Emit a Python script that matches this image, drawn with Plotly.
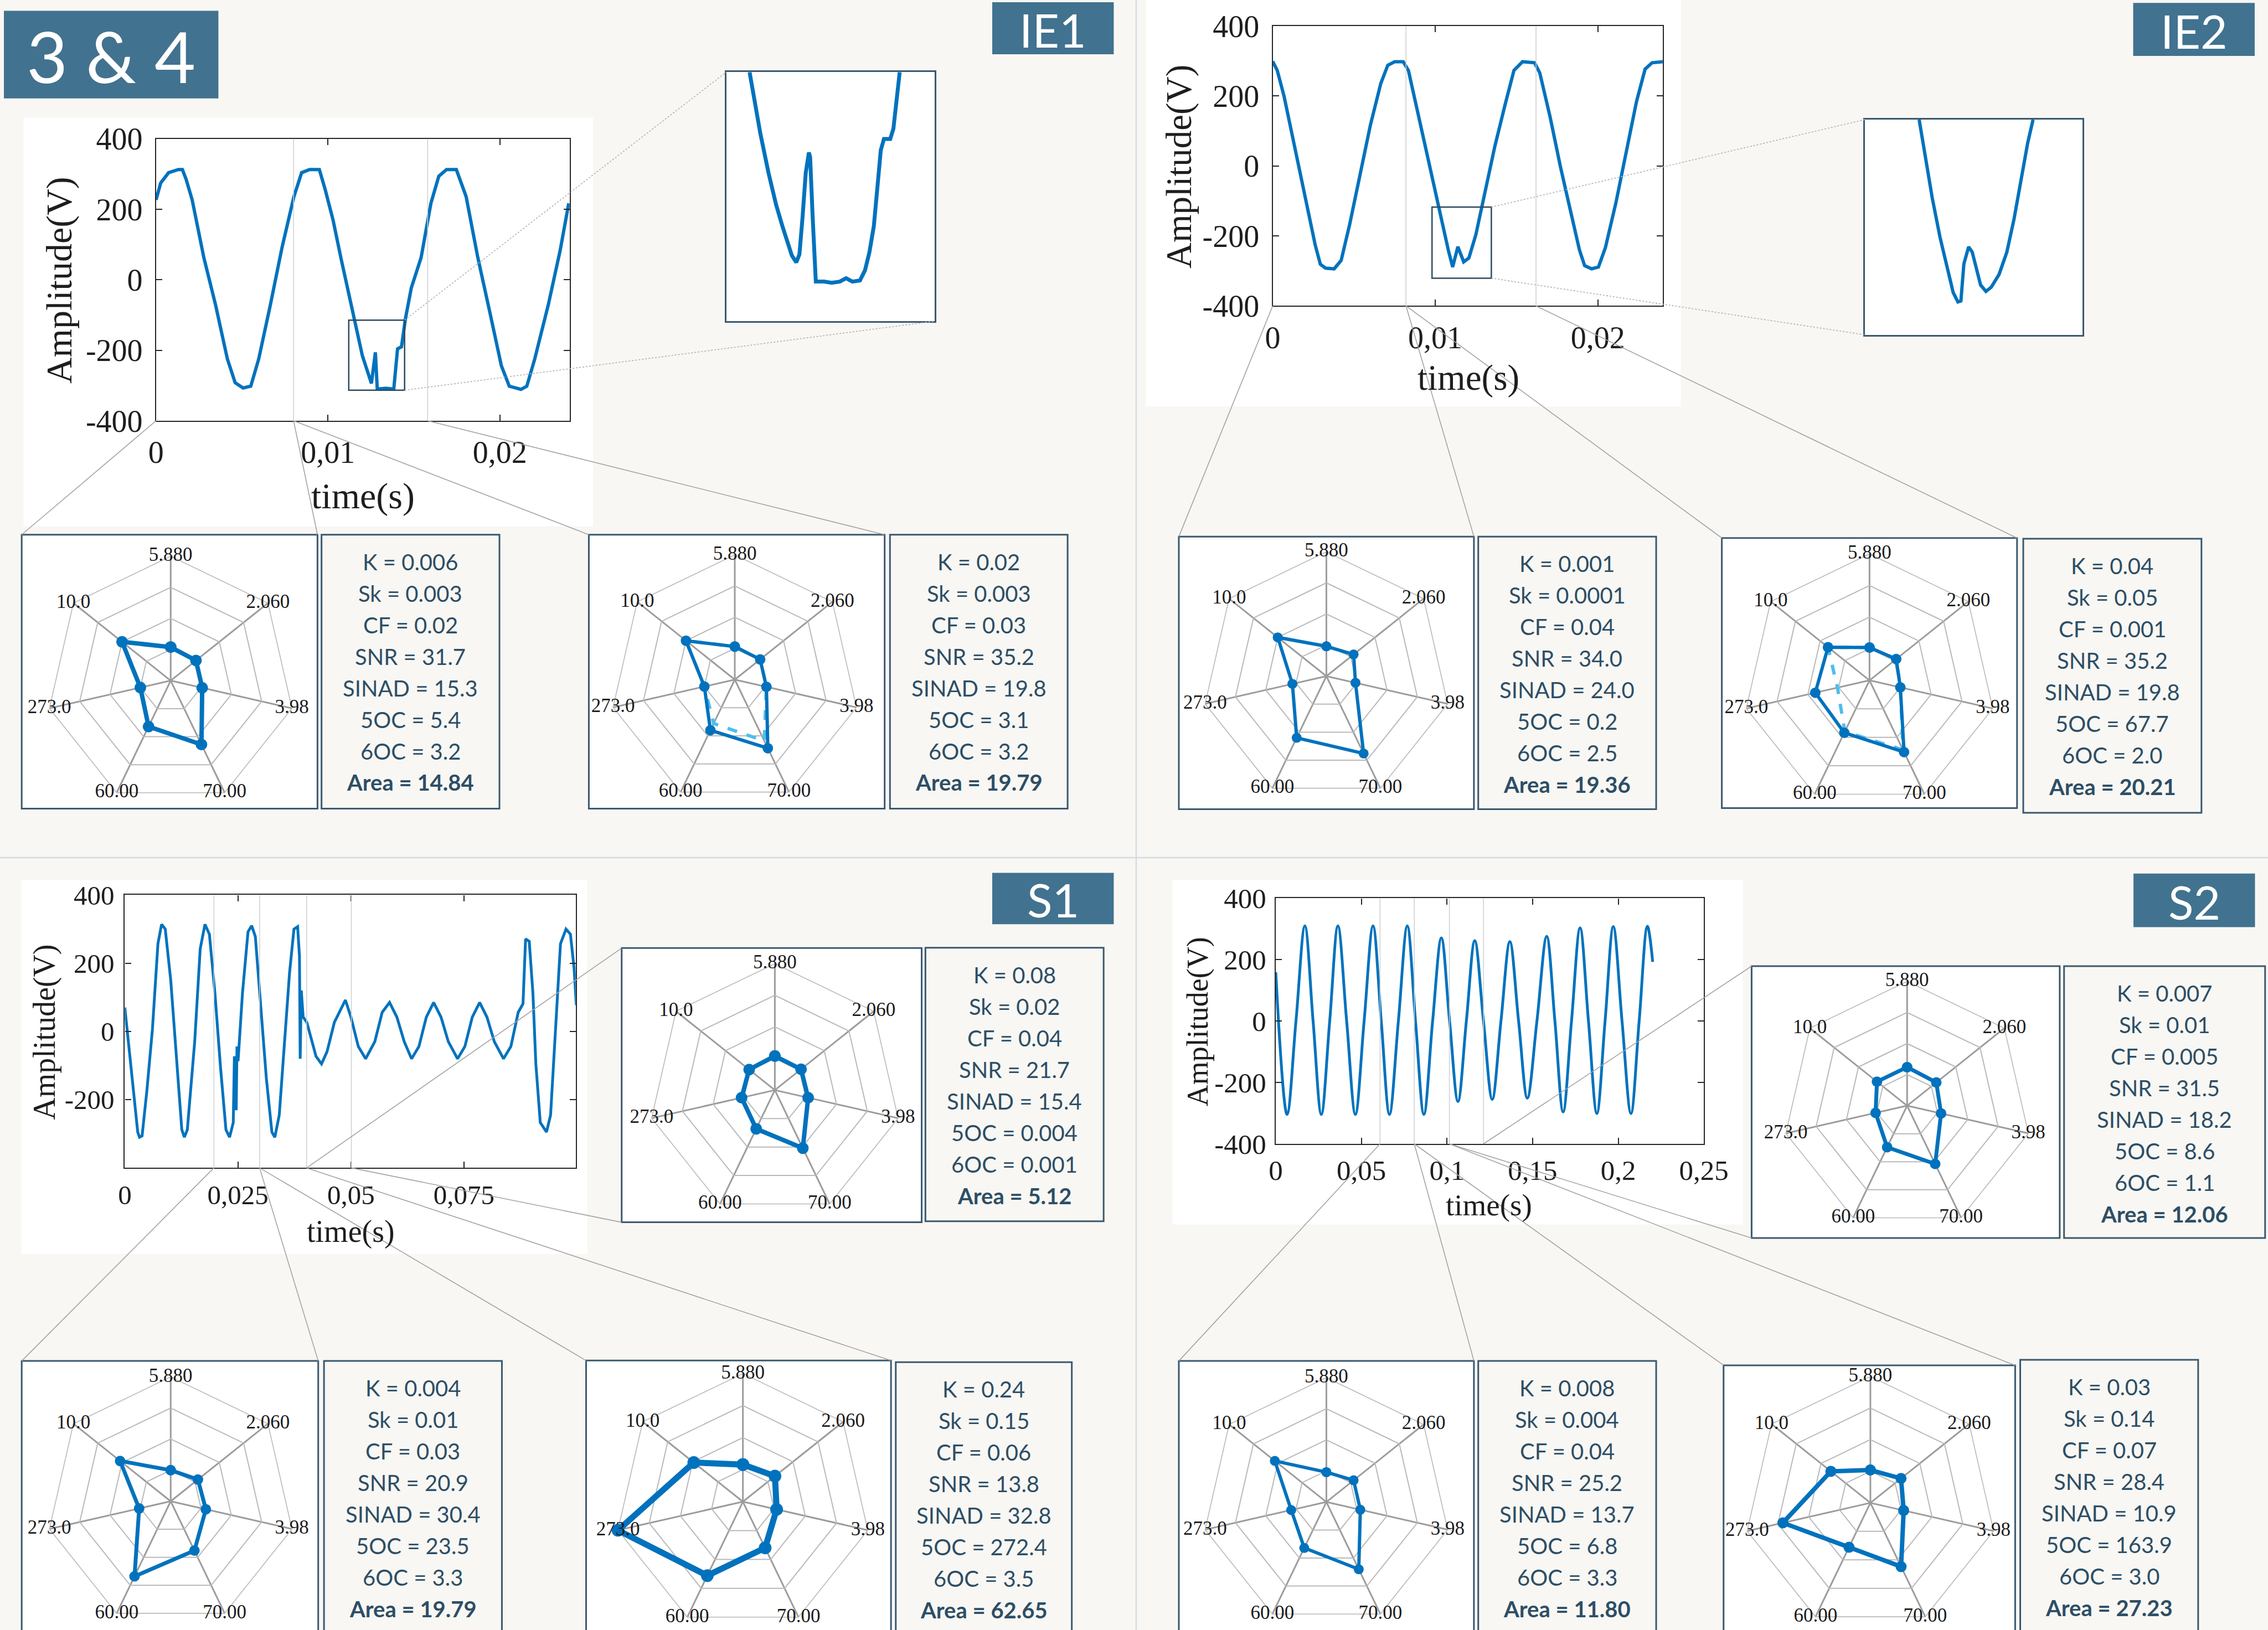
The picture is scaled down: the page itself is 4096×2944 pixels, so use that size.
import plotly.graph_objects as go

W, H = 4096, 2944
RW, RH = 1568.0, 1127.0          # layout frame (reference shrunk to 1568 wide)
S = W / RW


def px(x):
    return x / RW


def py(y):
    return 1.0 - y / RH


def clamp01(v):
    return min(1.0, max(0.0, v))


BG = '#f8f7f3'
BLUE = '#0072bd'
LIGHTBLUE = '#4dbeee'
SLATE = '#41728f'
BORDER = '#3b5970'
TXT = '#2d4e66'
AXC = '#262626'
DIVIDER = '#d3dce3'
SERIF = 'Liberation Serif'
SANS = 'Lato'

# ------------------------------------------------------------------ data
# waveforms: time in ms, amplitude in V
IE1_T_MS = [0.00, 0.27, 0.73, 1.30, 1.53, 1.75, 2.10, 2.78, 3.46, 4.15, 4.60, 5.06, 5.51, 5.97, 6.65, 7.33,
            8.02, 8.47, 8.93, 9.50, 9.84, 10.30, 10.75, 11.44, 12.00, 12.53, 12.76, 12.87, 13.37, 13.83,
            14.05, 14.28, 14.51, 14.85, 15.42, 15.99, 16.45, 16.90, 17.47, 18.04, 18.72, 19.41, 20.09,
            20.55, 21.23, 21.57, 22.03, 22.82, 23.51, 24.01]
IE1_V = [227, 275, 304, 313, 313, 285, 227, 63, -71, -225, -292, -307, -302, -225, -71, 92, 236, 304, 313,
         313, 256, 169, 63, -90, -215, -294, -206, -310, -308, -310, -196, -190, -110, -23, 63, 217, 294,
         313, 313, 236, 63, -90, -244, -302, -311, -302, -225, -71, 83, 217]

IE1Z_T_MS = [11.57, 11.64, 11.74, 11.87, 11.99, 12.09, 12.17, 12.24, 12.31, 12.36, 12.41, 12.46, 12.51,
             12.53, 12.57, 12.62, 12.75, 12.87, 13.00, 13.10, 13.20, 13.32, 13.40, 13.47, 13.54, 13.60,
             13.65, 13.70, 13.80, 13.85, 13.90, 13.95]
IE1Z_V = [-110, -134, -164, -199, -227, -246, -261, -272, -278, -271, -238, -199, -181, -185, -238, -295,
          -295, -296, -295, -292, -295, -294, -285, -269, -246, -207, -179, -169, -169, -160, -137, -110]

IE2_T_MS = [0.00, 0.28, 0.70, 1.34, 1.98, 2.61, 2.93, 3.25, 3.78, 4.21, 4.74, 5.38, 6.01, 6.65, 7.08, 7.50,
            8.03, 8.35, 8.99, 9.63, 10.27, 10.80, 11.07, 11.39, 11.75, 12.07, 12.50, 13.03, 13.67, 14.30,
            14.84, 15.37, 16.11, 16.43, 17.07, 17.70, 18.34, 18.87, 19.19, 19.62, 20.04, 20.47, 21.11,
            21.74, 22.38, 22.91, 23.34, 24.02]
IE2_V = [299, 273, 199, 57, -92, -225, -281, -292, -294, -270, -166, -25, 117, 236, 288, 298, 298, 273, 139,
         5, -136, -240, -289, -231, -274, -263, -196, -84, 57, 176, 273, 298, 295, 266, 139, -2, -136, -240,
         -285, -294, -289, -233, -106, 42, 184, 277, 295, 298]

IE2Z_T_MS = [10.71, 10.81, 10.93, 11.06, 11.19, 11.28, 11.36, 11.41, 11.46, 11.54, 11.60, 11.67, 11.74,
             11.83, 11.92, 12.05, 12.18, 12.30, 12.43, 12.53, 12.62]
IE2Z_V = [-118, -150, -192, -229, -260, -281, -290, -289, -254, -238, -243, -260, -274, -280, -276, -264,
          -243, -212, -171, -140, -118]

S1_T_MS = [0, 0.41, 1.63, 2.85, 3.25, 3.82, 4.88, 6.10, 7.32, 8.13, 8.94, 10.16, 11.38, 12.60, 13.17, 13.82,
           15.45, 16.67, 17.72, 18.70, 19.92, 21.14, 22.36, 23.17, 23.98, 24.23, 24.63, 24.80, 25.04, 26.02,
           27.24, 28.05, 28.86, 30.08, 31.30, 32.52, 33.17, 34.15, 35.37, 36.42, 37.40, 38.21, 38.62, 38.78,
           39.02, 39.43, 40.24, 41.46, 42.28, 43.50, 44.72, 46.34, 47.97, 48.78, 50.00, 51.63, 53.25, 55.28,
           56.91, 58.54, 60.16, 61.79, 63.41, 65.04, 66.67, 68.29, 69.92, 71.54, 73.58, 75.20, 76.83, 78.46,
           80.08, 81.71, 83.74, 85.37, 86.99, 88.05, 88.62, 89.43, 90.24, 90.89, 91.87, 93.25, 94.15, 95.12,
           96.34, 97.56, 98.54, 99.35, 99.84]
S1_V = [70, 13, -138, -295, -310, -306, -173, 6, 257, 314, 300, 149, -66, -288, -310, -288, -30, 242, 314, 285,
        113, -102, -288, -310, -267, -73, -231, -44, -87, 113, 292, 310, 278, 77, -138, -295, -310, -245, -30,
        171, 300, 307, 221, -80, 120, 42, 27, -30, -73, -95, -59, 27, 70, 92, 42, -44, -80, -30, 56, 85, 42,
        -30, -80, -44, 42, 85, 42, -30, -80, -44, 42, 85, 42, -30, -80, -44, 56, 81, 271, 264, 113, -95, -267,
        -295, -245, -30, 257, 300, 285, 185, 77]

S2_T_MS = [0, 6.6, 11.8, 17.0, 21.8, 26.6, 31.5, 36.3, 41.4, 46.5, 51.6, 56.8, 61.6, 66.4, 71.6, 76.8, 81.6,
           86.5, 91.6, 96.7, 101.5, 106.4, 111.3, 116.2, 121.3, 126.4, 131.5, 136.7, 141.8, 146.9, 152.5,
           158.2, 163.0, 167.8, 172.7, 177.7, 182.6, 187.5, 192.3, 197.1, 202.2, 207.4, 212.2, 217.0, 220.1]
S2_V = [159, -304, 0, 310, 0, -304, 0, 310, 0, -304, 0, 310, 0, -304, 0, 310, 0, -304, 0, 271, 0, -262, 0,
        262, 0, -255, 0, 259, 0, -251, 0, 276, 0, -296, 0, 304, 0, -301, 0, 308, 0, -301, 0, 309, 193]

# analysis windows (ms) marked on each waveform
IE1_WIN_MS = [0.0, 8.0, 15.8]
IE2_WIN_MS = [0.0, 8.2, 16.2]
S1_WIN_MS = [19.7, 29.8, 40.2, 50.1]
S2_WIN_MS = [60.9, 80.9, 101.4, 121.3]
IE1_ZOOM_T_MS = [11.21, 14.46]
IE1_ZOOM_V = [-313.5, -114.4]
IE2_ZOOM_T_MS = [9.80, 13.45]
IE2_ZOOM_V = [-320.7, -117.6]

# radar charts
AXIS_LABELS = ['5.880', '2.060', '3.98', '70.00', '60.00', '273.0', '10.0']
R_IE1A = [0.27, 0.26, 0.26, 0.57, 0.41, 0.25, 0.50]
R_IE1B = [0.265, 0.26, 0.26, 0.61, 0.45, 0.25, 0.50]
R_IE1B_REF = [0.265, 0.26, 0.26, 0.545, 0.39, 0.25, 0.50]
R_IE2A = [0.24, 0.28, 0.24, 0.69, 0.55, 0.28, 0.50]
R_IE2B = [0.26, 0.27, 0.25, 0.63, 0.46, 0.44, 0.42]
R_IE2B_REF = [0.26, 0.27, 0.25, 0.61, 0.45, 0.26, 0.42]
R_S1 = [0.27, 0.265, 0.27, 0.51, 0.34, 0.27, 0.26]
R_S2 = [0.31, 0.30, 0.28, 0.52, 0.37, 0.26, 0.31]
R_S1A = [0.25, 0.28, 0.29, 0.44, 0.67, 0.26, 0.52]
R_S1B = [0.29, 0.32, 0.27, 0.40, 0.64, 1.00, 0.49]
R_S2A = [0.24, 0.28, 0.28, 0.60, 0.41, 0.29, 0.53]
R_S2B = [0.26, 0.31, 0.27, 0.56, 0.39, 0.71, 0.40]

METRIC_NAMES = ['K', 'Sk', 'CF', 'SNR', 'SINAD', '5OC', '6OC', 'Area']
M_IE1A = ['0.006', '0.003', '0.02', '31.7', '15.3', '5.4', '3.2', '14.84']
M_IE1B = ['0.02', '0.003', '0.03', '35.2', '19.8', '3.1', '3.2', '19.79']
M_IE2A = ['0.001', '0.0001', '0.04', '34.0', '24.0', '0.2', '2.5', '19.36']
M_IE2B = ['0.04', '0.05', '0.001', '35.2', '19.8', '67.7', '2.0', '20.21']
M_S1 = ['0.08', '0.02', '0.04', '21.7', '15.4', '0.004', '0.001', '5.12']
M_S2 = ['0.007', '0.01', '0.005', '31.5', '18.2', '8.6', '1.1', '12.06']
M_S1A = ['0.004', '0.01', '0.03', '20.9', '30.4', '23.5', '3.3', '19.79']
M_S1B = ['0.24', '0.15', '0.06', '13.8', '32.8', '272.4', '3.5', '62.65']
M_S2A = ['0.008', '0.004', '0.04', '25.2', '13.7', '6.8', '3.3', '11.80']
M_S2B = ['0.03', '0.14', '0.07', '28.4', '10.9', '163.9', '3.0', '27.23']

PANEL_TAGS = ['3 & 4', 'IE1', 'IE2', 'S1', 'S2']

# ------------------------------------------------------------------ layout geometry (reference frame px)
PLOTS = {
    'IE1': dict(ax='', box=(107.9, 393.8, 96.0, 290.9), xr=(0, 0.02406), yr=(-400, 400)),
    'IE1Z': dict(ax='2', box=(502.1, 646.0, 49.9, 222.1), xr=(0.0112, 0.0145), yr=(-330, -110)),
    'IE2': dict(ax='3', box=(879.9, 1149.5, 18.0, 211.5), xr=(0, 0.02399), yr=(-400, 400)),
    'IE2Z': dict(ax='4', box=(1289.3, 1439.8, 82.7, 231.5), xr=(0.0098, 0.01345), yr=(-321, -118)),
    'S1': dict(ax='5', box=(86.3, 398.0, 618.8, 807.5), xr=(0, 0.0997), yr=(-400, 400)),
    'S2': dict(ax='6', box=(882.0, 1178.0, 621.1, 790.9), xr=(0, 0.25), yr=(-400, 400)),
}


def xref_px(name, t):
    p = PLOTS[name]
    x0, x1 = p['box'][0], p['box'][1]
    r0, r1 = p['xr']
    return x0 + (t - r0) / (r1 - r0) * (x1 - x0)


def yref_px(name, v):
    p = PLOTS[name]
    y0, y1 = p['box'][2], p['box'][3]
    r0, r1 = p['yr']
    return y1 - (v - r0) / (r1 - r0) * (y1 - y0)


fig = go.Figure()
layout = dict(template='none', width=W, height=H,
              margin=dict(l=0, r=0, t=0, b=0, pad=0, autoexpand=False), autosize=False,
              paper_bgcolor=BG, plot_bgcolor='white', showlegend=False)

shapes = []
annotations = []

# quadrant dividers
shapes.append(dict(type='line', xref='paper', yref='paper', x0=px(785.5), x1=px(785.5), y0=0, y1=1,
                   line=dict(color=DIVIDER, width=2.5), layer='below'))
shapes.append(dict(type='line', xref='paper', yref='paper', x0=0, x1=1, y0=py(593.0), y1=py(593.0),
                   line=dict(color=DIVIDER, width=2.5), layer='below'))

# white panels behind waveforms
for (x0, x1, y0, y1) in [(16.3, 410.0, 81.3, 364.0), (792.0, 1162.0, 0.0, 281.0),
                         (14.8, 406.0, 608.6, 867.0), (810.7, 1205.0, 608.4, 846.6)]:
    shapes.append(dict(type='rect', xref='paper', yref='paper', x0=px(x0), x1=px(x1), y0=py(y1), y1=py(y0),
                       fillcolor='white', line=dict(width=0), layer='below'))


def main_axes(name, xt, xtt, yt, ytt, tick_size, x_stand, y_stand):
    p = PLOTS[name]
    x0, x1, y0, y1 = p['box']
    common = dict(showgrid=False, zeroline=False, showline=True, linecolor=AXC, linewidth=2.2,
                  mirror='ticks', ticks='inside', ticklen=11, tickwidth=2, tickcolor=AXC, automargin=False,
                  tickfont=dict(family=SERIF, size=tick_size, color='#1e1e1e'))
    layout['xaxis' + p['ax']] = dict(domain=[px(x0), px(x1)], range=[p['xr'][0], p['xr'][1]],
                                     anchor='y' + p['ax'], tickvals=xt, ticktext=xtt,
                                     ticklabelstandoff=x_stand, **common)
    layout['yaxis' + p['ax']] = dict(domain=[py(y1), py(y0)], range=[p['yr'][0], p['yr'][1]],
                                     anchor='x' + p['ax'], tickvals=yt, ticktext=ytt,
                                     ticklabelstandoff=y_stand, **common)


def inset_axes(name):
    p = PLOTS[name]
    x0, x1, y0, y1 = p['box']
    common = dict(showgrid=False, zeroline=False, showline=True, linecolor=BORDER, linewidth=3,
                  mirror=True, ticks='', showticklabels=False, automargin=False)
    layout['xaxis' + p['ax']] = dict(domain=[px(x0), px(x1)], range=list(p['xr']), anchor='y' + p['ax'], **common)
    layout['yaxis' + p['ax']] = dict(domain=[py(y1), py(y0)], range=list(p['yr']), anchor='x' + p['ax'], **common)


YT = [-400, -200, 0, 200, 400]
main_axes('IE1', [0, 0.01, 0.02], ['0', '0,01', '0,02'], YT, [str(v) for v in YT], 56, 7, 11)
main_axes('IE2', [0, 0.01, 0.02], ['0', '0,01', '0,02'], YT, [str(v) for v in YT], 56, 7, 11)
main_axes('S1', [0, 0.025, 0.05, 0.075], ['0', '0,025', '0,05', '0,075'], YT,
          ['', '-200', '0', '200', '400'], 49, 5, 7)
main_axes('S2', [0, 0.05, 0.1, 0.15, 0.2, 0.25], ['0', '0,05', '0,1', '0,15', '0,2', '0,25'], YT,
          [str(v) for v in YT], 51, 2, 5)
inset_axes('IE1Z')
inset_axes('IE2Z')


def add_wave(name, t_ms, v, width, shape='linear'):
    p = PLOTS[name]
    line = dict(color=BLUE, width=width, shape=shape)
    if shape == 'spline':
        line['smoothing'] = 1.0
    fig.add_trace(go.Scatter(x=[t / 1000.0 for t in t_ms], y=v, mode='lines', line=line,
                             xaxis='x' + p['ax'], yaxis='y' + p['ax'], hoverinfo='skip'))


add_wave('IE1', IE1_T_MS, IE1_V, 6)
add_wave('IE1Z', IE1Z_T_MS, IE1Z_V, 7)
add_wave('IE2', IE2_T_MS, IE2_V, 6)
add_wave('IE2Z', IE2Z_T_MS, IE2Z_V, 6)
add_wave('S1', S1_T_MS, S1_V, 5)
add_wave('S2', S2_T_MS, S2_V, 5, 'spline')

# faint window markers inside the waveform plots
for name, wins in [('IE1', IE1_WIN_MS[1:]), ('IE2', IE2_WIN_MS[1:]), ('S1', S1_WIN_MS), ('S2', S2_WIN_MS)]:
    ax = PLOTS[name]['ax']
    for t in wins:
        shapes.append(dict(type='line', xref='x' + ax, yref='y' + ax + ' domain', x0=t / 1000.0, x1=t / 1000.0,
                           y0=0, y1=1, line=dict(color='#cfcfcf', width=1.5)))

# zoom rectangles and dotted connectors to the insets
for name, zt, zv, inset, corners in [('IE1', IE1_ZOOM_T_MS, IE1_ZOOM_V, 'IE1Z', ('tl', 'br')),
                                     ('IE2', IE2_ZOOM_T_MS, IE2_ZOOM_V, 'IE2Z', ('tl', 'bl'))]:
    ax = PLOTS[name]['ax']
    shapes.append(dict(type='rect', xref='x' + ax, yref='y' + ax, x0=zt[0] / 1000.0, x1=zt[1] / 1000.0,
                       y0=zv[0], y1=zv[1], line=dict(color='#2e4a5f', width=2.5)))
    rx = xref_px(name, zt[1] / 1000.0)
    ry_top = yref_px(name, zv[1])
    ry_bot = yref_px(name, zv[0])
    ib = PLOTS[inset]['box']
    targets = {'tl': (ib[0], ib[2]), 'bl': (ib[0], ib[3]), 'br': (ib[1], ib[3])}
    for (sx, sy), c in zip([(rx, ry_top), (rx, ry_bot)], corners):
        tx, ty = targets[c]
        shapes.append(dict(type='line', xref='paper', yref='paper', x0=px(sx), y0=py(sy), x1=px(tx), y1=py(ty),
                           line=dict(color='#b0b0b0', width=1.6, dash='dot')))

# axis titles
for (x, y, txt, ang, size) in [(250.8, 343.0, 'time(s)', 0, 66), (41.0, 193.7, 'Amplitude(V)', -90, 66),
                               (1015.4, 261.0, 'time(s)', 0, 65), (815.0, 115.2, 'Amplitude(V)', -90, 65),
                               (242.4, 851.4, 'time(s)', 0, 56), (30.5, 713.6, 'Amplitude(V)', -90, 56),
                               (1029.4, 833.0, 'time(s)', 0, 55), (827.8, 706.2, 'Amplitude(V)', -90, 54)]:
    annotations.append(dict(xref='paper', yref='paper', x=px(x), y=py(y), text=txt, textangle=ang,
                            showarrow=False, xanchor='center', yanchor='middle',
                            font=dict(family=SERIF, size=size, color='#1e1e1e')))

# radar charts
RADARS = [
    dict(r=R_IE1A, ref=None, m=M_IE1A, c=(118.0, 470.6), R=86.0, box=(15.0, 219.5, 369.7, 559.1),
         tbox=(222.3, 345.3, 369.7, 559.1), lw=8, ms=21, src=('IE1', 0, 1, 'TL', 'TR')),
    dict(r=R_IE1B, ref=R_IE1B_REF, m=M_IE1B, c=(508.0, 469.9), R=86.3, box=(407.1, 611.6, 369.7, 559.1),
         tbox=(615.3, 738.1, 369.7, 559.1), lw=6, ms=19, src=('IE1', 1, 2, 'TL', 'TR')),
    dict(r=R_IE2A, ref=None, m=M_IE2A, c=(917.0, 467.5), R=86.0, box=(815.0, 1019.0, 371.0, 559.5),
         tbox=(1022.0, 1145.0, 371.0, 559.5), lw=6, ms=18, src=('IE2', 0, 1, 'TL', 'TR')),
    dict(r=R_IE2B, ref=R_IE2B_REF, m=M_IE2B, c=(1292.5, 470.4), R=87.4, box=(1190.4, 1394.5, 372.0, 558.7),
         tbox=(1398.8, 1522.0, 372.5, 562.0), lw=6, ms=19, src=('IE2', 1, 2, 'TL', 'TR')),
    dict(r=R_S1, ref=None, m=M_S1, c=(535.7, 753.7), R=87.4, box=(429.8, 637.2, 655.5, 845.1),
         tbox=(639.8, 763.0, 655.3, 844.4), lw=8, ms=21, src=('S1', 2, 3, 'TL', 'BL')),
    dict(r=R_S2, ref=None, m=M_S2, c=(1318.5, 764.5), R=86.0, box=(1211.0, 1424.0, 668.0, 856.0),
         tbox=(1427.0, 1566.0, 668.0, 856.0), lw=7, ms=19, src=('S2', 3, 2, 'TL', 'BL')),
    dict(r=R_S1A, ref=None, m=M_S1A, c=(118.0, 1038.0), R=86.0, box=(15.0, 220.0, 941.0, 1135.0),
         tbox=(224.0, 347.0, 941.0, 1135.0), lw=7, ms=19, src=('S1', 0, 1, 'TL', 'TR')),
    dict(r=R_S1B, ref=None, m=M_S1B, c=(513.6, 1038.3), R=88.6, box=(405.2, 616.0, 940.7, 1135.0),
         tbox=(619.3, 741.0, 941.8, 1135.0), lw=11, ms=23, src=('S1', 1, 2, 'TL', 'TR')),
    dict(r=R_S2A, ref=None, m=M_S2A, c=(917.0, 1038.5), R=86.0, box=(815.0, 1019.0, 941.0, 1135.0),
         tbox=(1022.0, 1145.0, 941.0, 1135.0), lw=6, ms=18, src=('S2', 0, 1, 'TL', 'TR')),
    dict(r=R_S2B, ref=None, m=M_S2B, c=(1293.1, 1039.1), R=87.4, box=(1191.6, 1393.2, 944.0, 1135.0),
         tbox=(1396.7, 1519.7, 940.2, 1135.0), lw=8, ms=20, src=('S2', 1, 2, 'TL', 'TR')),
]
WINS = {'IE1': IE1_WIN_MS, 'IE2': IE2_WIN_MS, 'S1': S1_WIN_MS, 'S2': S2_WIN_MS}

for i, rd in enumerate(RADARS):
    pid = 'polar' if i == 0 else 'polar%d' % (i + 1)
    cx, cy = rd['c']
    R = rd['R']
    bx0, bx1, by0, by1 = rd['box']
    tx0, tx1, ty0, ty1 = rd['tbox']
    shapes.append(dict(type='rect', xref='paper', yref='paper', x0=px(bx0), x1=px(bx1), y0=py(by1), y1=py(by0),
                       fillcolor='white', line=dict(color=BORDER, width=3), layer='below'))
    shapes.append(dict(type='rect', xref='paper', yref='paper', x0=px(tx0), x1=px(tx1), y0=py(ty1), y1=py(ty0),
                       fillcolor=BG, line=dict(color=BORDER, width=3), layer='below'))
    layout[pid] = dict(
        domain=dict(x=[clamp01(px(cx - R)), clamp01(px(cx + R))],
                    y=[clamp01(py(cy + R)), clamp01(py(cy - R))]),
        bgcolor='rgba(0,0,0,0)', gridshape='linear',
        radialaxis=dict(range=[0, 1], tickvals=[0.25, 0.5, 0.75, 1.0], showticklabels=False, ticks='',
                        showline=False, gridcolor='#b9b9b9', gridwidth=1.6, layer='below traces'),
        angularaxis=dict(type='category', categoryorder='array', categoryarray=AXIS_LABELS, rotation=90,
                         direction='clockwise', showticklabels=False, ticks='', showline=True,
                         linecolor='#b9b9b9', linewidth=1.6, gridcolor='#9c9c9c', gridwidth=3.4,
                         layer='below traces'))
    theta = AXIS_LABELS + [AXIS_LABELS[0]]
    if rd['ref'] is not None:
        fig.add_trace(go.Scatterpolar(r=rd['ref'] + [rd['ref'][0]], theta=theta, subplot=pid, mode='lines',
                                      line=dict(color=LIGHTBLUE, width=6, dash='dash'), hoverinfo='skip'))
    fig.add_trace(go.Scatterpolar(r=rd['r'] + [rd['r'][0]], theta=theta, subplot=pid, mode='lines+markers',
                                  line=dict(color=BLUE, width=rd['lw']),
                                  marker=dict(color=BLUE, size=rd['ms']), hoverinfo='skip'))
    fig.add_trace(go.Scatterpolar(r=[1.0] * len(AXIS_LABELS), theta=AXIS_LABELS, subplot=pid, mode='text',
                                  text=AXIS_LABELS, textposition='middle center', cliponaxis=False,
                                  textfont=dict(family=SERIF, size=35, color='#1a1a1a'), hoverinfo='skip'))
    # metric text lines
    for j, (nm, val) in enumerate(zip(METRIC_NAMES, rd['m'])):
        txt = '%s = %s' % (nm, val)
        if nm == 'Area':
            txt = '<b>' + txt + '</b>'
        annotations.append(dict(xref='paper', yref='paper', x=px((tx0 + tx1) / 2.0),
                                y=py(ty0 + 18.8 + j * 21.8), text=txt, showarrow=False,
                                xanchor='center', yanchor='middle',
                                font=dict(family=SANS, size=40, color=TXT)))
    # connector lines from the waveform window to this radar box
    pname, ia, ib, ca, cb = rd['src']
    wins = WINS[pname]
    ybot = PLOTS[pname]['box'][3]
    corner = {'TL': (bx0, by0), 'TR': (bx1, by0), 'BL': (bx0, by1)}
    for widx, cn in [(ia, ca), (ib, cb)]:
        sx = xref_px(pname, wins[widx] / 1000.0)
        ex, ey = corner[cn]
        shapes.append(dict(type='line', xref='paper', yref='paper', x0=px(sx), y0=py(ybot), x1=px(ex), y1=py(ey),
                           line=dict(color='#a3a3a3', width=1.6)))

# panel tags
for txt, (x0, x1, y0, y1), size in zip(PANEL_TAGS,
                                       [(2.7, 151.0, 7.5, 68.0), (686.0, 770.0, 1.5, 37.5),
                                        (1474.8, 1558.8, 2.0, 38.7), (686.0, 770.0, 603.5, 639.0),
                                        (1475.0, 1559.0, 604.0, 641.0)],
                                       [128, 84, 84, 84, 84]):
    shapes.append(dict(type='rect', xref='paper', yref='paper', x0=px(x0), x1=px(x1), y0=py(y1), y1=py(y0),
                       fillcolor=SLATE, line=dict(width=0)))
    annotations.append(dict(xref='paper', yref='paper', x=px((x0 + x1) / 2.0), y=py((y0 + y1) / 2.0 + 0.8),
                            text=txt.replace('&', '&amp;'), showarrow=False, xanchor='center', yanchor='middle',
                            font=dict(family=SANS, size=size, color='white')))

layout['shapes'] = shapes
layout['annotations'] = annotations
fig.update_layout(**layout)
fig.write_html('out.html', config={'displayModeBar': False},
               post_script="document.body.style.margin='0px';document.body.style.overflow='hidden';")
